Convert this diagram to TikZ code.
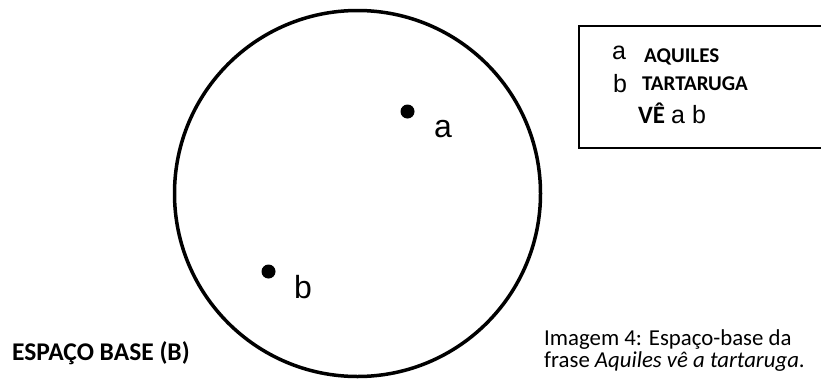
\documentclass[tikz,border=0pt]{standalone}
\usepackage{fontspec}
\setmainfont{Carlito}
\newfontfamily\arialfont{Liberation Sans}
\begin{document}
\begin{tikzpicture}[x=1pt,y=-1pt,
  dotstyle/.style={circle,fill=black,inner sep=0pt,minimum size=14pt},
  lbl/.style={font=\arialfont\fontsize{32}{36}\selectfont,inner sep=0pt,anchor=base west},
  boxtxt/.style={inner sep=0pt,anchor=base west},
  keyletter/.style={boxtxt,font=\arialfont\fontsize{25}{28}\selectfont},
  keyword/.style={boxtxt,font=\bfseries\fontsize{21}{24}\selectfont}]
\useasboundingbox (0,0) rectangle (821,381);
\fill[white] (0,0) rectangle (821,381);
\node[draw,line width=3.5pt,circle,minimum size=366pt,inner sep=0pt] (B) at (357.5,193.5) {};
\node[dotstyle] (pa) at (407.5,111.5) {};
\node[dotstyle] (pb) at (268.5,271.5) {};
\node[lbl] (la) at (434,137) {a};
\node[lbl] (lb) at (294,298) {b};
\node[draw,line width=2.2pt,minimum width=260pt,minimum height=122pt,anchor=north west,inner sep=0pt] (box) at (578,25) {};
\node[keyletter] (ka) at (612,59) {a};
\node[keyword] (kaq) at (644,62) {AQUILES};
\node[keyletter] (kb) at (613,92) {b};
\node[keyword] (kt) at (642,90) {TARTARUGA};
\node[boxtxt,font=\bfseries\fontsize{25}{28}\selectfont] (kv) at (638,123) {VÊ};
\node[keyletter] (kab) at (671,123) {a b};
\node[boxtxt,font=\bfseries\fontsize{25.5}{28}\selectfont] (title) at (12,360) {ESPAÇO BASE (B)};
\node[boxtxt,font=\fontsize{22.8}{26}\selectfont] (cap1) at (544,345) {Imagem 4: Espaço-base da};
\node[boxtxt,font=\fontsize{22.8}{26}\selectfont] (cap2) at (544,367) {frase \textit{Aquiles vê a tartaruga}.};
\end{tikzpicture}
\end{document}
